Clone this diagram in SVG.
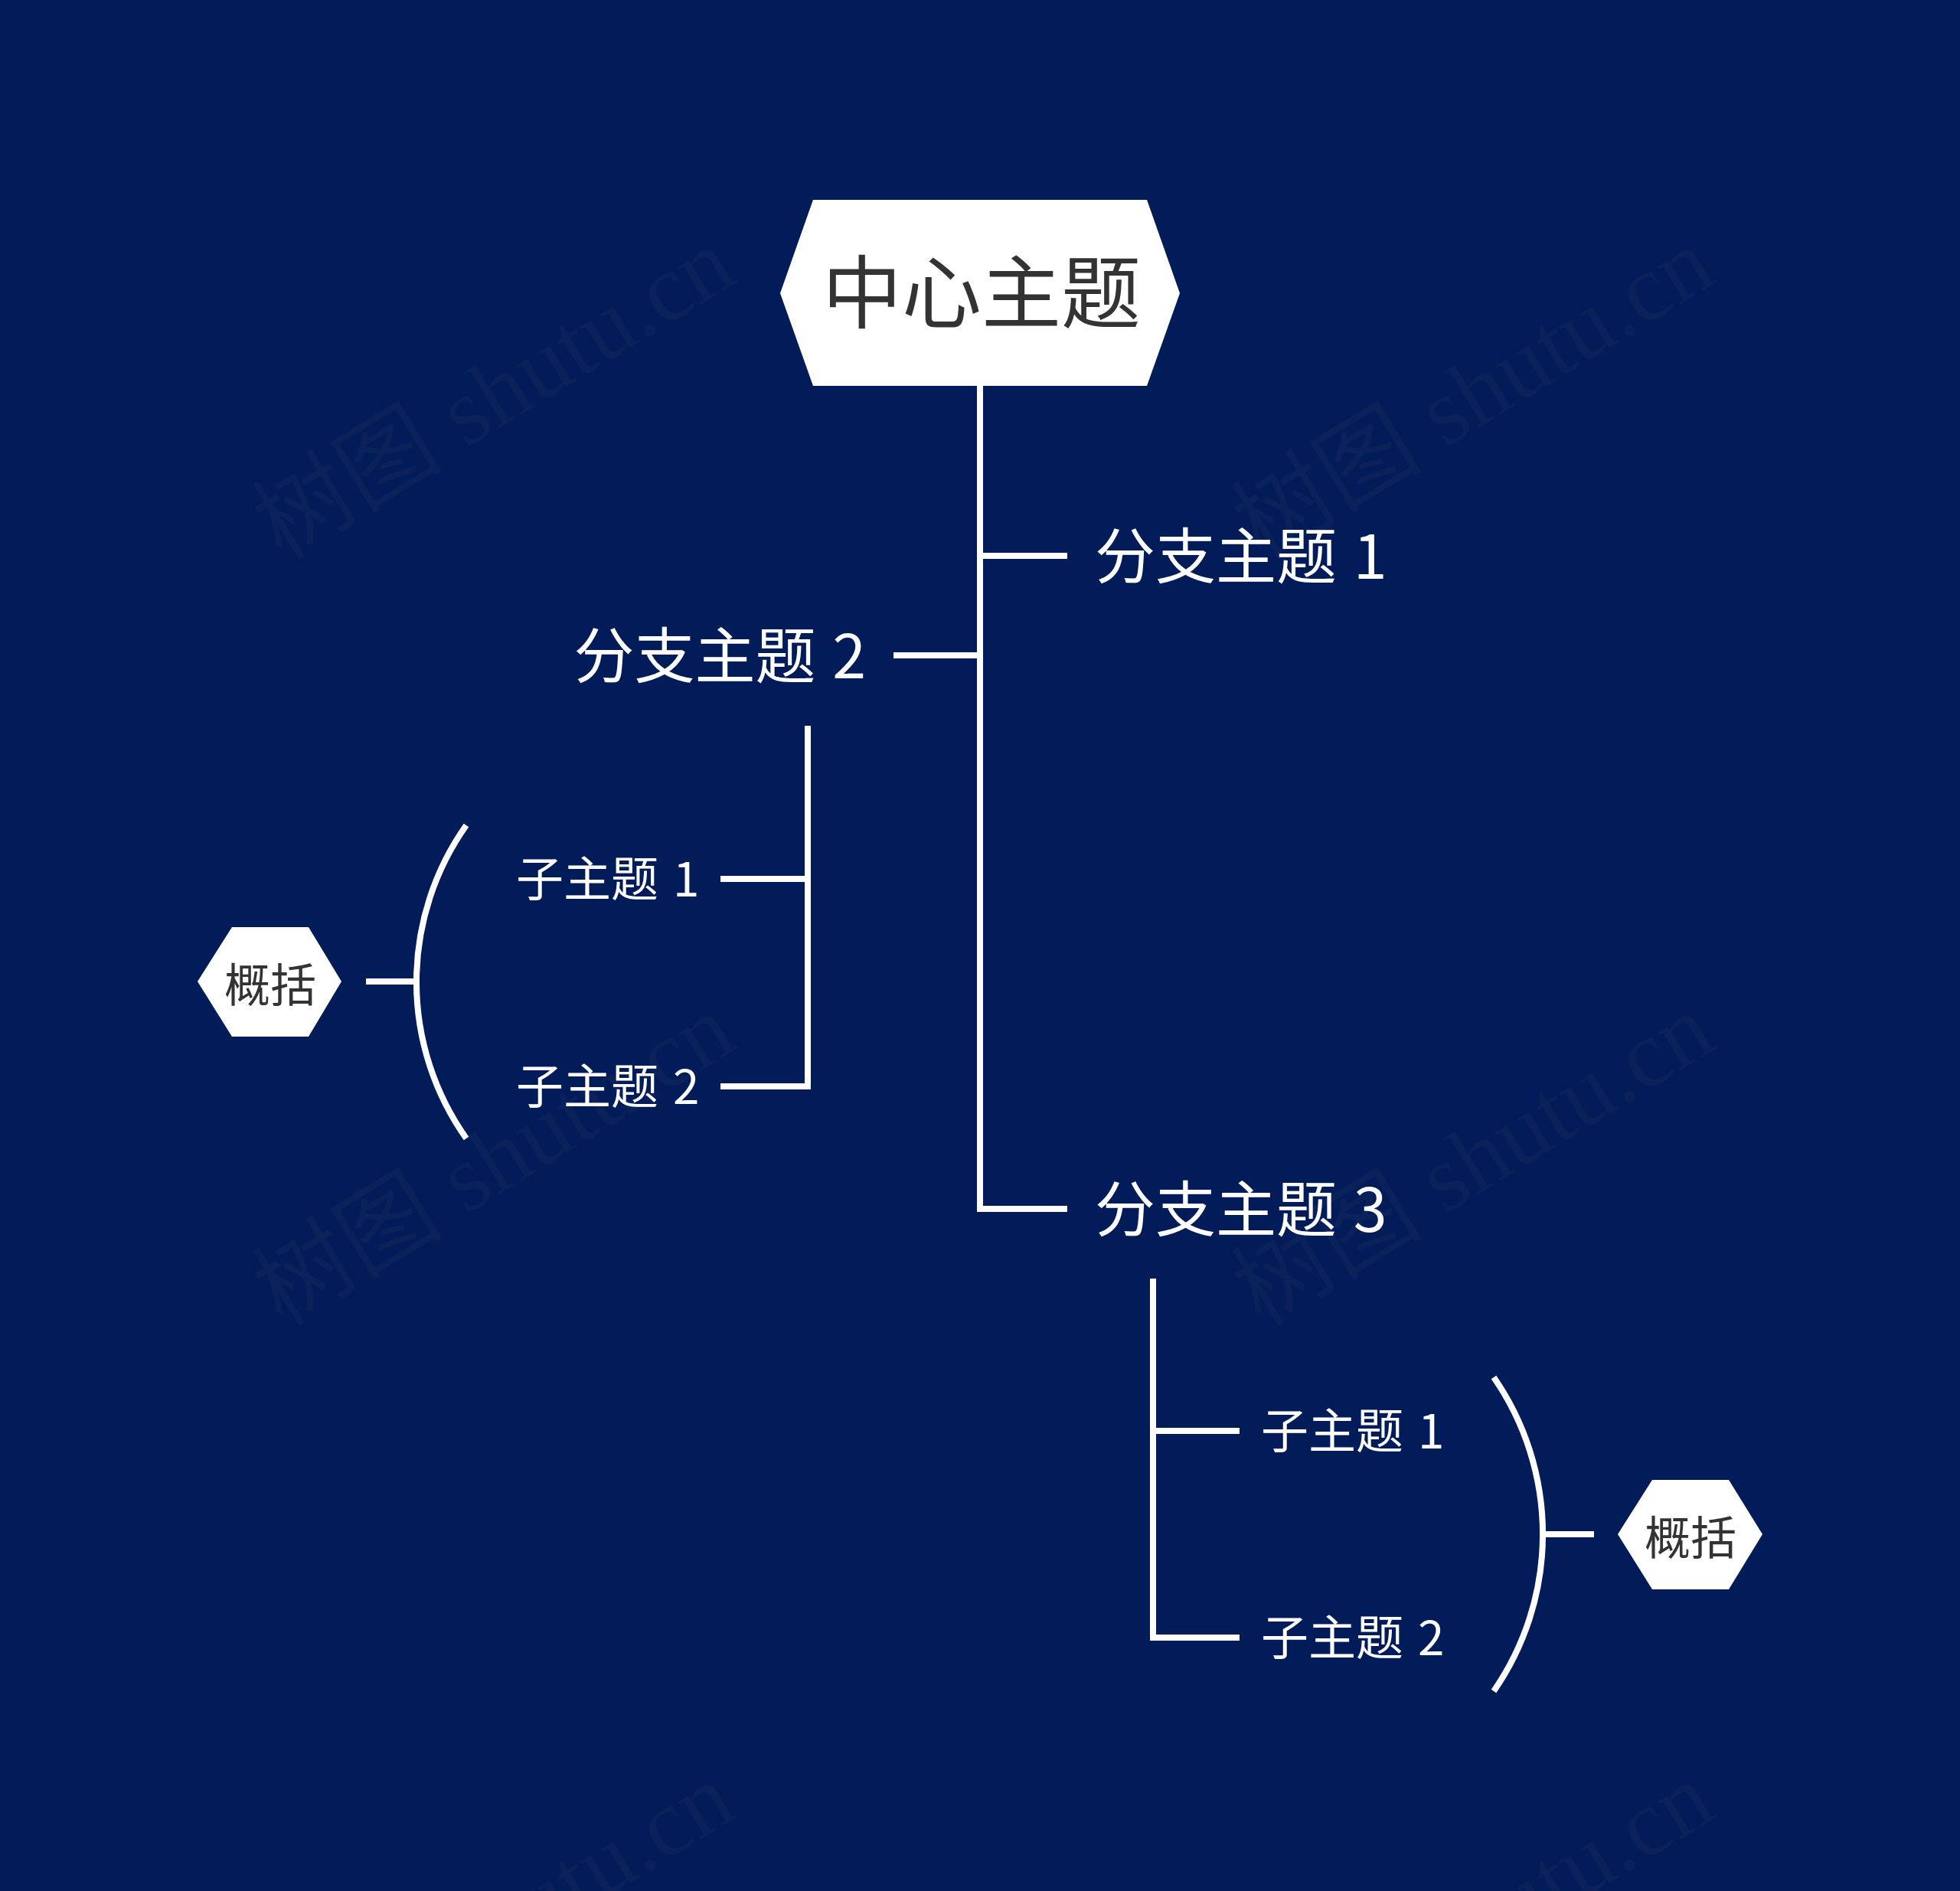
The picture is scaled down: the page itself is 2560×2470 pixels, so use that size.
<svg xmlns="http://www.w3.org/2000/svg" width="2560" height="2470" viewBox="0 0 2560 2470">
<style>
.bg{fill:#011c59}
.wm{font-family:"Liberation Serif","Noto Sans CJK SC",serif;font-size:125px;fill:#1a2a5c;fill-opacity:0.4}
.conn{fill:none;stroke:#ffffff;stroke-width:8;stroke-linecap:butt;stroke-linejoin:miter}
.hex{fill:#ffffff}
.t{font-family:"Noto Sans CJK SC","Noto Sans",sans-serif;dominant-baseline:central}
.dark{fill:#333333}
.light{fill:#ffffff}
.main{font-size:104px}
.branch{font-size:79px}
.sub{font-size:62px}
.sum{font-size:60px}
</style>
<rect class="bg" x="0" y="0" width="2560" height="2470"/>
<g id="watermarks">
<text class="wm" text-anchor="middle" dominant-baseline="central" transform="translate(645,514) rotate(-31.5)">树图 shutu.cn</text>
<text class="wm" text-anchor="middle" dominant-baseline="central" transform="translate(1924,514) rotate(-31.5)">树图 shutu.cn</text>
<text class="wm" text-anchor="middle" dominant-baseline="central" transform="translate(645,1515) rotate(-31.5)">树图 shutu.cn</text>
<text class="wm" text-anchor="middle" dominant-baseline="central" transform="translate(1924,1515) rotate(-31.5)">树图 shutu.cn</text>
<text class="wm" text-anchor="middle" dominant-baseline="central" transform="translate(645,2519) rotate(-31.5)">树图 shutu.cn</text>
<text class="wm" text-anchor="middle" dominant-baseline="central" transform="translate(1924,2519) rotate(-31.5)">树图 shutu.cn</text>
</g>
<g id="connectors">
<path class="conn" d="M1280 504 V1579 H1394"/>
<path class="conn" d="M1280 726 H1394"/>
<path class="conn" d="M1280 856 H1167"/>
<path class="conn" d="M1055 948 V1419 H941"/>
<path class="conn" d="M1055 1148 H941"/>
<path class="conn" d="M1506 1670 V2139 H1619"/>
<path class="conn" d="M1506 1869 H1619"/>
<path class="conn" d="M609 1078 A354 354 0 0 0 609 1487"/>
<path class="conn" d="M544 1282 H478"/>
<path class="conn" d="M1951 1799 A360 360 0 0 1 1951 2209"/>
<path class="conn" d="M2015 2004 H2082"/>
</g>
<g id="central">
<polygon class="hex" points="1019,383 1062,261 1498,261 1541,383 1498,504 1062,504"/>
<text class="t dark main" x="1282" y="375" text-anchor="middle">中心主题</text>
</g>
<g id="branch1">
<text class="t light branch" x="1430" y="721">分支主题<tspan dx="4"> 1</tspan></text>
</g>
<g id="branch2">
<text class="t light branch" x="1131" y="851" text-anchor="end">分支主题<tspan dx="4"> 2</tspan></text>
</g>
<g id="branch3">
<text class="t light branch" x="1430" y="1574">分支主题<tspan dx="4"> 3</tspan></text>
</g>
<g id="b2-sub1">
<text class="t light sub" x="674" y="1144">子主题<tspan dx="5"> 1</tspan></text>
</g>
<g id="b2-sub2">
<text class="t light sub" x="674" y="1415">子主题<tspan dx="5"> 2</tspan></text>
</g>
<g id="b2-summary">
<polygon class="hex" points="258,1282 303,1211 403,1211 446,1282 403,1354 303,1354"/>
<text class="t dark sum" x="353" y="1282" text-anchor="middle">概括</text>
</g>
<g id="b3-sub1">
<text class="t light sub" x="1647" y="1865">子主题<tspan dx="5"> 1</tspan></text>
</g>
<g id="b3-sub2">
<text class="t light sub" x="1647" y="2135">子主题<tspan dx="5"> 2</tspan></text>
</g>
<g id="b3-summary">
<polygon class="hex" points="2113,2004 2158,1933 2258,1933 2302,2004 2258,2076 2158,2076"/>
<text class="t dark sum" x="2208" y="2004" text-anchor="middle">概括</text>
</g>
</svg>
